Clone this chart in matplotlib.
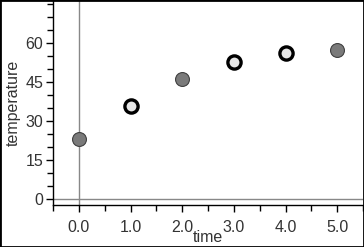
import numpy as np
import matplotlib.pyplot as plt
from matplotlib.ticker import MultipleLocator

plt.rcParams['font.family'] = ['Liberation Sans', 'DejaVu Sans']

# data
time = [0, 1, 2, 3, 4, 5]
temperature = [23, 35.7, 46.1, 52.6, 56.1, 57.2]
selected = [False, True, False, True, True, False]

fig = plt.figure(figsize=(3.64, 2.47), dpi=100)
ax = fig.add_axes([53/364, 42/247, 310/364, 204/247])

ax.axvline(0, color='#888888', lw=1, zorder=1)
ax.axhline(0, color='#888888', lw=1, zorder=1)

for t, v, s in zip(time, temperature, selected):
    if s:
        ax.plot(t, v, 'o', ms=9.5, mfc='#e6e6e6', mec='black', mew=2.4, zorder=3)
    else:
        ax.plot(t, v, 'o', ms=10, mfc='#7a7a7a', mec='#404040', mew=0.8, zorder=3)

ax.set_xlim(-0.5, 5.5)
ax.set_ylim(-2.3, 76)
ax.set_xticks(time)
ax.set_xticklabels([f'{t:.1f}' for t in time])
ax.xaxis.set_minor_locator(MultipleLocator(0.5))
ax.set_yticks([0, 15, 30, 45, 60])
ax.yaxis.set_minor_locator(MultipleLocator(5))
ax.tick_params(which='both', direction='out', color='black', labelsize=11.5,
               labelcolor='#333333')
ax.tick_params(which='major', length=5, width=1)
ax.tick_params(which='minor', length=4, width=1)
ax.tick_params(axis='x', pad=6)
ax.tick_params(axis='y', pad=2)

for side in ['top', 'right']:
    ax.spines[side].set_visible(False)
for side in ['left', 'bottom']:
    ax.spines[side].set_linewidth(1)

ax.set_xlabel('time', fontsize=11.5, labelpad=-4, color='#333333')
ax.set_ylabel('temperature', fontsize=11.5, labelpad=3, color='#333333')

fig.patches.append(plt.Rectangle((0, 0), 1, 1, transform=fig.transFigure,
                                 fill=False, ec='black', lw=2))

fig.savefig('out.png', dpi=100)
